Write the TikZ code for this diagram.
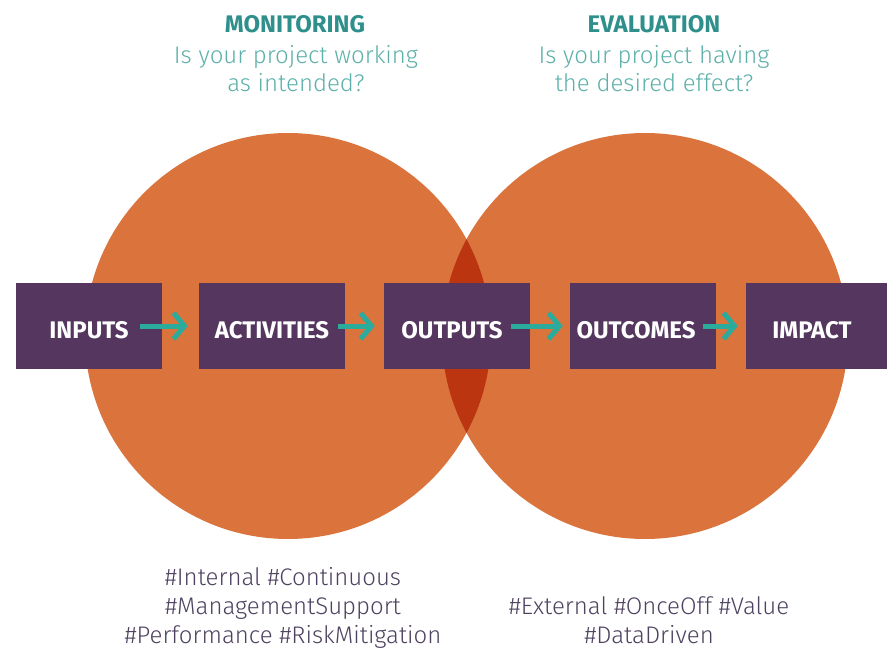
\documentclass[tikz,border=0pt]{standalone}
\usepackage{fontspec}
\setmainfont{Fira Sans}
\newfontfamily\lightfont{Fira Sans Light}
\usetikzlibrary{arrows.meta, positioning}

\definecolor{circorange}{HTML}{DA733C}
\definecolor{overlapred}{HTML}{BB3511}
\definecolor{stagepurple}{HTML}{55365F}
\definecolor{flowteal}{HTML}{2AAB9C}
\definecolor{headteal}{HTML}{2E8F8B}
\definecolor{askteal}{HTML}{5DB0AA}
\definecolor{taggrey}{HTML}{4E4260}

\tikzset{
  stage/.style={fill=stagepurple, minimum width=146pt, minimum height=86pt, inner sep=0pt,
    text height=25pt, text depth=0pt, text=white, font=\fontsize{24}{24}\selectfont\bfseries},
  flow/.style={draw=flowteal, line width=5pt, -{Straight Barb[length=11pt,width=26pt]}},
  head/.style={text=headteal, inner sep=0pt, font=\fontsize{24}{24}\selectfont\bfseries},
  ask/.style={text=askteal, inner sep=0pt, align=center, font=\lightfont\fontsize{24}{28}\selectfont},
  tags/.style={text=taggrey, inner sep=0pt, align=center, font=\lightfont\fontsize{24}{29}\selectfont},
}

\begin{document}
\begin{tikzpicture}[x=1pt,y=-1pt]
    \useasboundingbox (0,0) rectangle (887,648);
    \fill[circorange] (288,336) circle[radius=203];
    \fill[circorange] (645,336) circle[radius=203];
    \begin{scope}
        \clip (288,336) circle[radius=203];
        \fill[overlapred] (645,336) circle[radius=203];
    \end{scope}

    \node[stage] (inputs) at (89,326) {INPUTS};
    \node[stage] (activities) at (272,326) {ACTIVITIES};
    \node[stage] (outputs) at (457,326) {\kern-10pt OUTPUTS};
    \node[stage] (outcomes) at (643,326) {\kern-14pt OUTCOMES};
    \node[stage] (impact) at (819,326) {\kern-14pt IMPACT};

    \foreach \a/\b/\s/\e in {inputs/activities/22/11, activities/outputs/7/9,
                             outputs/outcomes/19/7, outcomes/impact/13/8}
        \draw[flow] ([xshift=-\s pt]\a.east) -- ([xshift=-\e pt]\b.west);

    \node[head, anchor=base] (montitle) at (295,32) {MONITORING};
    \node[ask, anchor=base] (monask) at (296,91) {Is your project working\\as intended?};
    \node[head, anchor=base] (evaltitle) at (654,32) {EVALUATION};
    \node[ask, anchor=base] (evalask) at (654,91) {Is your project having\\the desired effect?};

    \node[tags, anchor=base] (montags) at (283,643) {\#Internal \#Continuous\\\#ManagementSupport\\\#Performance \#RiskMitigation};
    \node[tags, anchor=base] (evaltags) at (649,643) {\#External \#OnceOff \#Value\\\#DataDriven};
\end{tikzpicture}
\end{document}
